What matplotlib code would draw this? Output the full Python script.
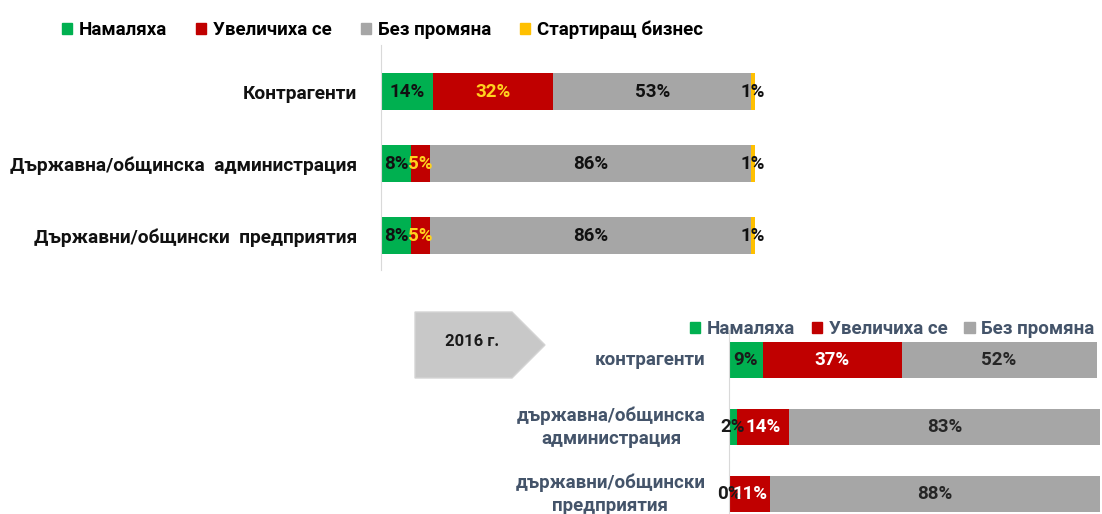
import numpy as np
import matplotlib
matplotlib.use("Agg")
from matplotlib import pyplot as plt
from matplotlib.patches import Patch, Polygon

plt.rcParams['font.family'] = ['Roboto', 'DejaVu Sans']

# top chart (current survey)
categories_top = ['Контрагенти', 'Държавна/общинска  администрация', 'Държавни/общински  предприятия']
decreased_top = [14, 8, 8]
increased_top = [32, 5, 5]
unchanged_top = [53, 86, 86]
startup_top = [1, 1, 1]
series_top = ['Намаляха', 'Увеличиха се', 'Без промяна', 'Стартиращ бизнес']

# bottom chart (2016)
year_label = '2016 г.'
categories_2016 = ['контрагенти', 'държавна/общинска\nадминистрация', 'държавни/общински\nпредприятия']
decreased_2016 = [9, 2, 0]
increased_2016 = [37, 14, 11]
unchanged_2016 = [52, 83, 88]
series_2016 = ['Намаляха', 'Увеличиха се', 'Без промяна']

GREEN = '#00B050'
RED = '#C00000'
GRAY = '#A6A6A6'
YELLOW = '#FFC000'
SLATE = '#44546A'

W, H = 1102, 514
fig = plt.figure(figsize=(W / 100, H / 100), dpi=100)


def px(x0, y0, x1, y1):
    return [x0 / W, 1 - y1 / H, (x1 - x0) / W, (y1 - y0) / H]


def stacked(ax, cats, series, colors, label_colors, height):
    y = np.arange(len(cats))
    left = np.zeros(len(cats))
    for vals, c, lc in zip(series, colors, label_colors):
        bars = ax.barh(y, vals, left=left, color=c, height=height)
        ax.bar_label(bars, labels=[f'{v}%' for v in vals], label_type='center',
                     color=lc, fontweight='bold', fontsize=13.5)
        left = left + np.array(vals)
    ax.set_xlim(0, 100)
    ax.set_yticks(y)
    ax.set_xticks([])
    for s in ['top', 'right', 'bottom']:
        ax.spines[s].set_visible(False)
    ax.spines['left'].set_color('#d9d9d9')
    ax.tick_params(axis='y', length=0, pad=17)


# --- top chart
ax1 = fig.add_axes(px(381, 45, 755, 270))
stacked(ax1, categories_top,
        [decreased_top, increased_top, unchanged_top, startup_top],
        [GREEN, RED, GRAY, YELLOW],
        ['#111111', '#FFD21F', '#111111', '#111111'], 0.51)
ax1.set_ylim(2.479, -0.646)
ax1.set_yticklabels(categories_top, fontsize=13.8, fontweight='bold', color='#111111')

fig.legend(handles=[Patch(color=c) for c in [GREEN, RED, GRAY, YELLOW]], labels=series_top,
           loc='upper left', bbox_to_anchor=(45 / W, 1 - 4 / H), ncol=4, frameon=False,
           handlelength=0.55, handleheight=0.55, handletextpad=0.35, columnspacing=1.55,
           prop={'weight': 'bold', 'size': 13.5})

# --- bottom chart (2016)
ax2 = fig.add_axes(px(729, 330, 1104, 514))
stacked(ax2, categories_2016,
        [decreased_2016, increased_2016, unchanged_2016],
        [GREEN, RED, GRAY],
        ['#1a1a1a', 'white', '#262626'], 0.537)
ax2.set_ylim(2.299, -0.448)
ax2.set_yticklabels(categories_2016, fontsize=13.5, fontweight='bold', color=SLATE,
                    multialignment='center', linespacing=1.35)
for t in ax2.get_yticklabels():
    t.set_va('center')

leg2 = fig.legend(handles=[Patch(color=c) for c in [GREEN, RED, GRAY]], labels=series_2016,
                  loc='upper left', bbox_to_anchor=(673 / W, 1 - 303 / H), ncol=3, frameon=False,
                  handlelength=0.55, handleheight=0.55, handletextpad=0.35, columnspacing=0.9,
                  prop={'weight': 'bold', 'size': 13.5})
for t in leg2.get_texts():
    t.set_color(SLATE)

# year arrow
arrow = Polygon([(415 / W, 1 - 312 / H), (512 / W, 1 - 312 / H), (545 / W, 1 - 345 / H),
                 (512 / W, 1 - 378 / H), (415 / W, 1 - 378 / H)],
                closed=True, transform=fig.transFigure, facecolor='#C8C8C8',
                edgecolor='#d4d4d4', linewidth=1)
fig.patches.append(arrow)
fig.text(472 / W, 1 - 342 / H, year_label, ha='center', va='center',
         fontsize=12, fontweight='bold', color='#1a1a1a')

fig.savefig('out.png', dpi=100)
